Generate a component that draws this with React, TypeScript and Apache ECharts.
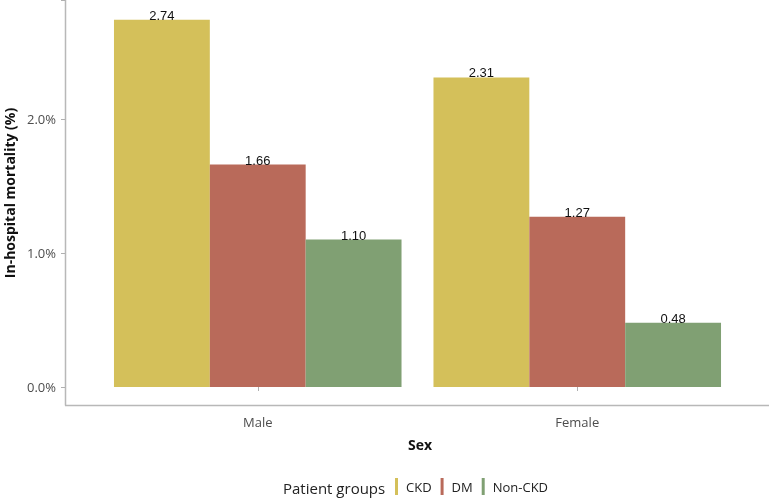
import React, { useEffect, useRef } from "react";
import * as echarts from "echarts";

const categories = ["Male", "Female"];
const groups = ["CKD", "DM", "Non-CKD"];
const ckd = [2.74, 2.31];
const dm = [1.66, 1.27];
const nonCkd = [1.1, 0.48];
const colors = ["#D4C05A", "#B96A5A", "#80A073"];

export default function App() {
  const ref = useRef<HTMLDivElement>(null);
  useEffect(() => {
    const chart = echarts.init(ref.current!, null, { renderer: "svg" });
    const seriesData = [ckd, dm, nonCkd];
    chart.setOption({
      animation: false,
      grid: { left: 98, right: 34, top: 0, bottom: 112, containLabel: false },
      xAxis: {
        type: "category",
        data: categories,
        offset: 18,
        axisLine: { show: false },
        axisTick: { show: true, alignWithLabel: true, length: 4, lineStyle: { color: "#b0b0b0", width: 1 } },
        axisLabel: { margin: 10, fontSize: 13, color: "#4d4d4d", fontFamily: "Open Sans" },
      },
      yAxis: {
        type: "value",
        min: 0,
        max: 2.888,
        interval: 1,
        offset: 33,
        axisLine: { show: false },
        axisTick: { show: true, length: 4, lineStyle: { color: "#b0b0b0", width: 1 } },
        splitLine: { show: false },
        axisLabel: {
          margin: 9,
          fontSize: 13,
          color: "#4d4d4d",
          fontFamily: "Open Sans",
          formatter: (v: number) => (Math.abs(v - Math.round(v)) < 1e-6 ? v.toFixed(1) + "%" : ""),
        },
      },
      legend: {
        data: groups,
        left: 390,
        top: 473,
        orient: "horizontal",
        icon: "rect",
        itemWidth: 3,
        itemHeight: 17,
        itemGap: 9,
        textStyle: { fontSize: 13, color: "#222", fontFamily: "Open Sans", padding: [0, 0, 0, 3] },
      },
      graphic: [
        { type: "line", shape: { x1: 65.5, y1: 0, x2: 65.5, y2: 405.5 }, style: { stroke: "#b8b8b8", lineWidth: 1.5 }, silent: true },
        { type: "line", shape: { x1: 65, y1: 405.5, x2: 769, y2: 405.5 }, style: { stroke: "#b8b8b8", lineWidth: 1.5 }, silent: true },
        {
          type: "text",
          x: 420,
          y: 444,
          style: { text: "Sex", fontSize: 14, fontWeight: "bold", fill: "#111", fontFamily: "Open Sans", textAlign: "center", textVerticalAlign: "middle" },
        },
        {
          type: "text",
          x: 9,
          y: 193,
          rotation: Math.PI / 2,
          style: { text: "In-hospital mortality (%)", fontSize: 14, fontWeight: "bold", fill: "#111", fontFamily: "Open Sans", textAlign: "center", textVerticalAlign: "middle" },
        },
        {
          type: "text",
          x: 283,
          y: 488,
          style: { text: "Patient groups", fontSize: 15, fill: "#222", fontFamily: "Open Sans", textAlign: "left", textVerticalAlign: "middle" },
        },
      ],
      series: groups.map((g, i) => ({
        name: g,
        type: "bar",
        data: seriesData[i],
        barGap: "0%",
        barCategoryGap: "10%",
        itemStyle: { color: colors[i] },
        label: {
          show: true,
          position: "top",
          distance: -2,
          fontSize: 13,
          color: "#111",
          fontFamily: "Liberation Sans",
          formatter: (p: any) => Number(p.value).toFixed(2),
        },
      })),
    });
    return () => chart.dispose();
  }, []);
  return <div ref={ref} style={{ position: "fixed", left: 0, top: 0, width: 771, height: 499 }} />;
}
